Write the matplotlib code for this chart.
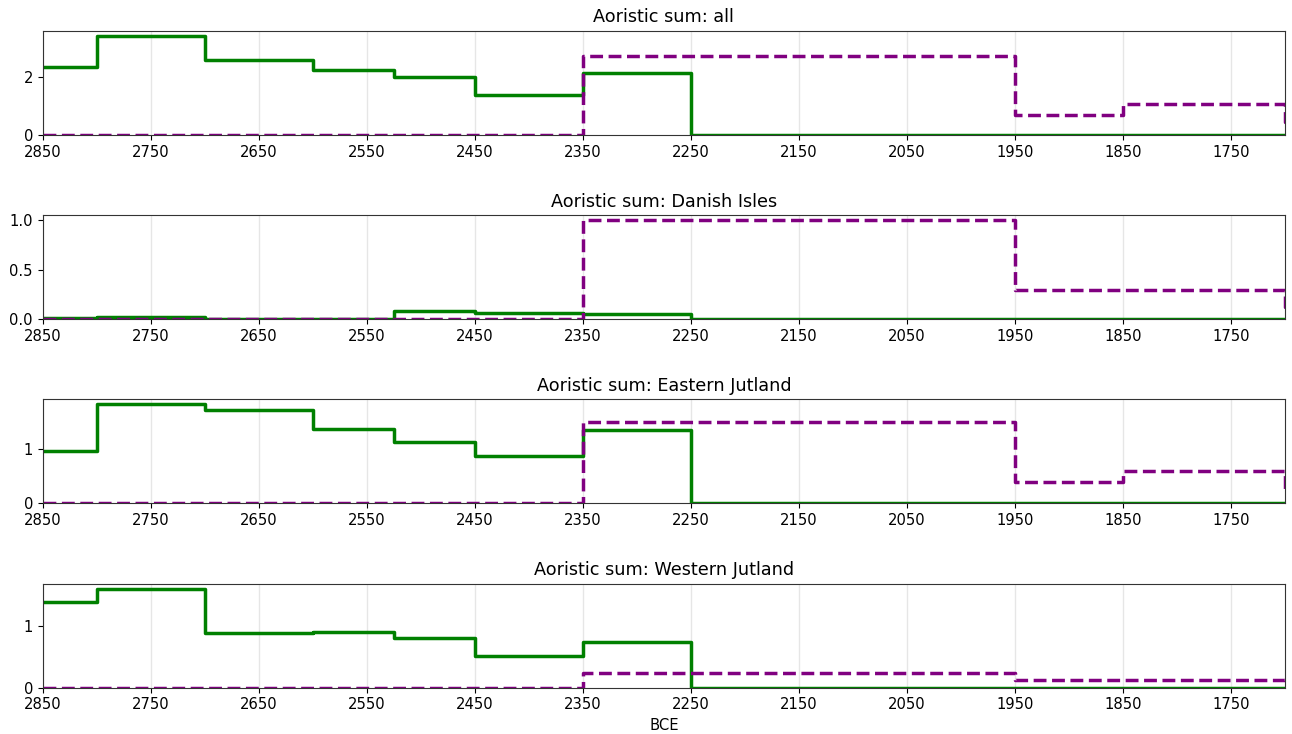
import matplotlib
matplotlib.use("Agg")
import matplotlib.pyplot as plt

# period boundaries (BCE), values hold from one edge to the next
green_edges = [2850, 2800, 2700, 2600, 2525, 2450, 2350, 2250, 1700]
purple_edges = [2850, 2350, 1950, 1850, 1700, 1600]

regions = ["all", "Danish Isles", "Eastern Jutland", "Western Jutland"]

green_all = [2.34, 3.41, 2.59, 2.24, 2.00, 1.38, 2.14, 0.0]
green_danish = [0.012, 0.018, 0.006, 0.005, 0.083, 0.060, 0.052, 0.0]
green_eastern = [0.96, 1.81, 1.70, 1.36, 1.12, 0.86, 1.35, 0.0]
green_western = [1.385, 1.60, 0.88, 0.895, 0.81, 0.52, 0.74, 0.0]

purple_all = [0.0, 2.72, 0.69, 1.07, 0.46]
purple_danish = [0.0, 1.00, 0.29, 0.29, 0.12]
purple_eastern = [0.0, 1.48, 0.39, 0.59, 0.20]
purple_western = [0.0, 0.24, 0.13, 0.13, 0.18]

yticks = [[0, 2], [0.0, 0.5, 1.0], [0, 1], [0, 1]]
ytick_labels = [["0", "2"], ["0.0", "0.5", "1.0"], ["0", "1"], ["0", "1"]]
xticks = [2850, 2750, 2650, 2550, 2450, 2350, 2250, 2150, 2050, 1950, 1850, 1750]

greens = [green_all, green_danish, green_eastern, green_western]
purples = [purple_all, purple_danish, purple_eastern, purple_western]

fig, axes = plt.subplots(4, 1, figsize=(12.92, 7.34), dpi=100)
plt.subplots_adjust(left=0.033, right=0.9946, top=0.958, bottom=0.063, hspace=0.77)

for i, ax in enumerate(axes):
    g = greens[i]
    p = purples[i]
    ax.step(green_edges, g + [g[-1]], where='post', color='green', linewidth=2.5)
    ax.step(purple_edges, p + [p[-1]], where='post', color='purple', linewidth=2.5,
            linestyle='--')
    top = max(max(g), max(p)) * 1.05
    ax.set_xlim(2850, 1700)
    ax.set_ylim(0, top)
    ax.set_xticks(xticks)
    ax.set_xticklabels([str(t) for t in xticks], fontsize=10.6)
    ax.set_yticks(yticks[i])
    ax.set_yticklabels(ytick_labels[i], fontsize=10.6)
    ax.grid(axis='x', color='#e6e6e6', linewidth=1)
    ax.set_axisbelow(True)
    ax.set_title("Aoristic sum: " + regions[i], fontsize=12.7)
    for s in ax.spines.values():
        s.set_color('#333333')

axes[-1].set_xlabel("BCE", fontsize=10.6)

plt.savefig("out.png", dpi=100)
